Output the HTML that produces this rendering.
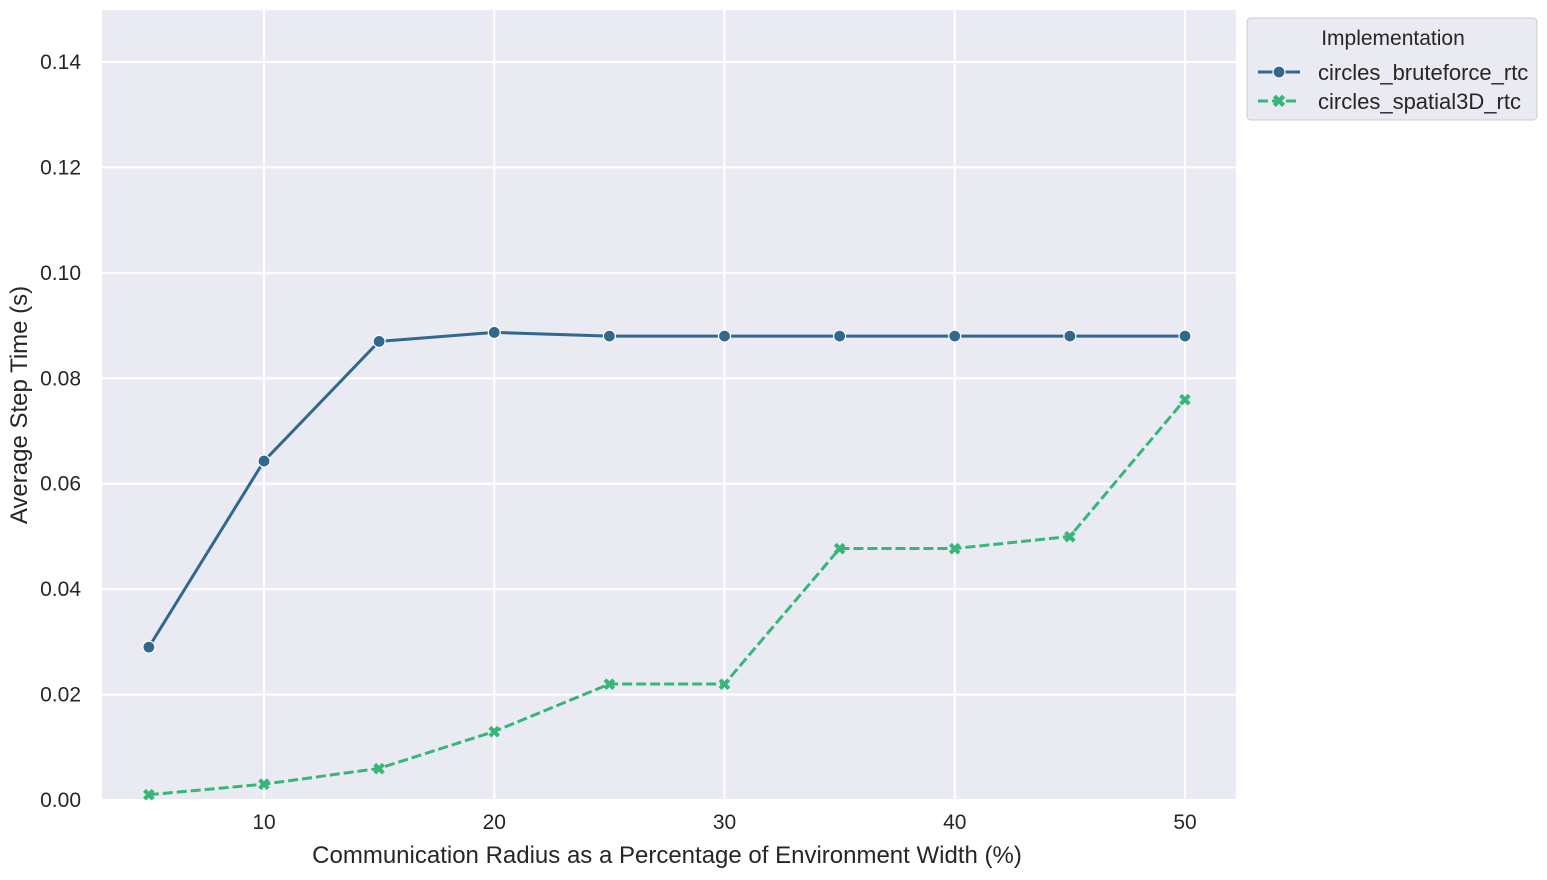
<!DOCTYPE html>
<html><head><meta charset="utf-8"><style>
body{margin:0;background:#fff;font-family:"Liberation Sans",sans-serif;}
</style></head><body>
<svg id="chart" width="1547" height="875" xmlns="http://www.w3.org/2000/svg" font-family="Liberation Sans, sans-serif">
<rect x="102" y="10" width="1134" height="790" fill="#eaeaf2"/>
<g id="grid"></g><g id="series"></g><g id="ticks"></g>
<text x="667" y="863" font-size="24" text-anchor="middle" fill="#262626">Communication Radius as a Percentage of Environment Width (%)</text>
<text transform="translate(27,405) rotate(-90)" font-size="24" text-anchor="middle" fill="#262626">Average Step Time (s)</text>
<g>
<rect x="1247" y="18" width="290" height="102" rx="4" fill="#eaeaf2" stroke="#cccccc"/>
<text x="1393" y="45" font-size="21" text-anchor="middle" fill="#262626">Implementation</text>
<g><line x1="1258" y1="72" x2="1300" y2="72" stroke="#31688e" stroke-width="3"/><circle cx="1279" cy="72" r="6" fill="#31688e" stroke="#fff" stroke-width="1.2"/><text x="1318" y="80" font-size="22" fill="#262626">circles_bruteforce_rtc</text></g>
<g><line x1="1258" y1="101" x2="1300" y2="101" stroke="#35b779" stroke-width="3" stroke-dasharray="10,4"/><text x="1279" y="107" font-size="17" font-weight="bold" text-anchor="middle" fill="#35b779">✖</text><text x="1318" y="109" font-size="22" fill="#262626">circles_spatial3D_rtc</text></g>
</g>
</svg>
<script>
const categories=[5,10,15,20,25,30,35,40,45,50];
const bruteforce=[0.029,0.0643,0.087,0.0887,0.088,0.088,0.088,0.088,0.088,0.088];
const spatial3d=[0.001,0.003,0.006,0.013,0.022,0.022,0.0477,0.0477,0.05,0.076];
const xTicks=[10,20,30,40,50];
const yTicks=[0,0.02,0.04,0.06,0.08,0.10,0.12,0.14];
const yTickLabels=["0.00","0.02","0.04","0.06","0.08","0.10","0.12","0.14"];
const NS="http://www.w3.org/2000/svg";
const xs=v=>264+(v-10)*(1185-264)/40;
const ys=v=>800-v*(800-62)/0.14;
function mk(t,a,p){const e=document.createElementNS(NS,t);for(const k in a)e.setAttribute(k,a[k]);p.appendChild(e);return e;}
const g=document.getElementById('grid'),tk=document.getElementById('ticks'),s=document.getElementById('series');
xTicks.forEach(v=>{const l=mk('line',{x1:xs(v),x2:xs(v),y1:10,y2:800,stroke:'#fff','stroke-width':2},g);


const t=mk('text',{x:xs(v),y:829,'font-size':21,'text-anchor':'middle',fill:'#262626'},tk);t.textContent=v;

});
yTicks.forEach((v,i)=>{const l=mk('line',{x1:102,x2:1236,y1:ys(v),y2:ys(v),stroke:'#fff','stroke-width':2},g);


const t=mk('text',{x:81,y:ys(v)+7,'font-size':21,'text-anchor':'end',fill:'#262626'},tk);t.textContent=yTickLabels[i];

});
function draw(vals,color,dash,marker,name){
const p=mk('polyline',{points:categories.map((c,i)=>xs(c)+','+ys(vals[i])).join(' '),fill:'none',stroke:color,'stroke-width':3,'stroke-dasharray':dash},s);


categories.forEach((c,i)=>{let m;
if(marker==='o'){m=mk('circle',{cx:xs(c),cy:ys(vals[i]),r:6,fill:color,stroke:'#fff','stroke-width':1.2},s);}
else{m=mk('text',{x:xs(c),y:ys(vals[i])+6,'font-size':16,'font-weight':'bold','text-anchor':'middle',fill:color},s);m.textContent='✖';}

});}
draw(bruteforce,'#31688e','none','o','bruteforce');
draw(spatial3d,'#35b779','10,4','x','spatial3d');
</script>
</body></html>
